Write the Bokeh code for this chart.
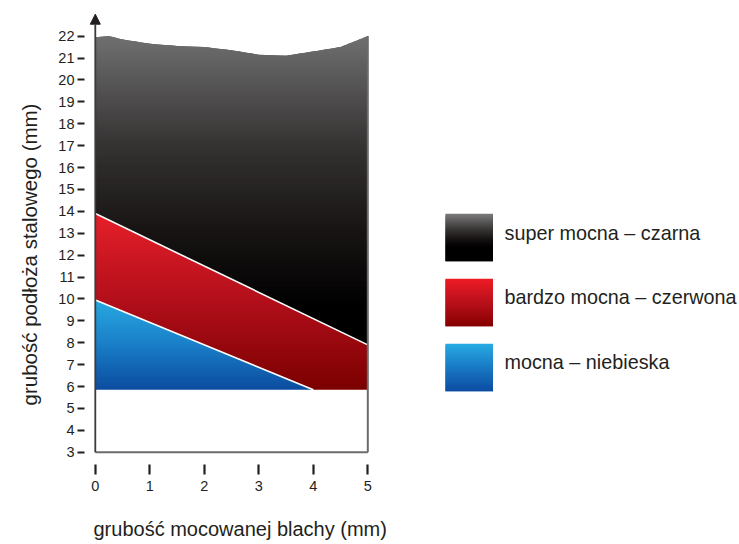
import numpy as np
from bokeh.plotting import figure
from bokeh.models import FixedTicker, Arrow, NormalHead, Range1d, Title
from bokeh.core.properties import value
from bokeh.embed import file_html
from bokeh.resources import INLINE

# ---------------- data ----------------
x_ticks = [0, 1, 2, 3, 4, 5]
y_ticks = list(range(3, 23))
base_y = 5.85                      # lower edge of coloured area
blue_x = [0, 4]                    # mocna – niebieska (upper limit)
blue_y = [9.95, 5.85]
red_x = [0, 5]                     # bardzo mocna – czerwona (upper limit)
red_y = [13.9, 7.9]
black_x = [0, 0.25, 0.5, 1, 1.5, 2, 2.5, 3, 3.5, 4, 4.5, 5]   # super mocna – czarna (upper limit)
black_y = [21.95, 22.0, 21.85, 21.65, 21.55, 21.5, 21.35, 21.15, 21.1, 21.3, 21.5, 22.0]
series = ["super mocna – czarna", "bardzo mocna – czerwona", "mocna – niebieska"]
x_label = "grubość mocowanej blachy (mm)"
y_label = "grubość podłoża stalowego (mm)"

FONT = "Liberation Sans"
TXT = "#231f20"


def hex2rgb(h):
    h = h.lstrip("#")
    return np.array([int(h[i:i + 2], 16) for i in (0, 2, 4)], float)


def grad_color(stops, t):
    pos = [s[0] for s in stops]
    cols = np.array([hex2rgb(s[1]) for s in stops])
    rgb = [np.interp(t, pos, cols[:, c]) for c in range(3)]
    return "#%02x%02x%02x" % tuple(int(round(v)) for v in rgb)


def band_polys(lx, ly, ux, uy, y0, y1, n, stops):
    """Horizontal gradient bands of the area between two boundaries."""
    lx = np.asarray(lx, float); ly = np.asarray(ly, float)
    ux = np.asarray(ux, float); uy = np.asarray(uy, float)
    edges = np.linspace(y0, y1, n + 1)
    step = edges[1] - edges[0]
    base_pts = np.unique(np.concatenate([lx, ux]))
    xs_out, ys_out, cols = [], [], []
    for k in range(n):
        a = edges[k]
        b = min(edges[k + 1] + 1.5 * step, y1) if k < n - 1 else y1
        pts = [base_pts]
        for bx, by in ((lx, ly), (ux, uy)):
            for L in (a, b):
                d = by - L
                idx = np.where(d[:-1] * d[1:] < 0)[0]
                if len(idx):
                    pts.append(bx[idx] + (L - by[idx]) * (bx[idx + 1] - bx[idx]) / (by[idx + 1] - by[idx]))
        xg = np.unique(np.concatenate(pts))
        top = np.clip(np.interp(xg, ux, uy), a, b)
        bot = np.clip(np.interp(xg, lx, ly), a, b)
        ok = (top - bot) > 1e-9
        if not ok.any():
            continue
        i = np.where(ok)[0]
        i0 = max(i[0] - 1, 0)
        i1 = min(i[-1] + 1, len(xg) - 1)
        xx = xg[i0:i1 + 1]
        xs_out.append(list(np.concatenate([xx, xx[::-1]])))
        ys_out.append(list(np.concatenate([top[i0:i1 + 1], bot[i0:i1 + 1][::-1]])))
        cols.append(grad_color(stops, (edges[k] + edges[k + 1]) / 2))
    return xs_out, ys_out, cols


# ---------------- figure geometry (canvas pixels) ----------------
W, H = 739, 544
px_per_x = 54.5
px_per_y = 21.9
x0_px, y3_px = 94.8, 451.7          # pixel of x=0 and y=3
frame_left, frame_top, frame_bottom, frame_right = 84, 10, 464, W
frame_w = frame_right - frame_left
frame_h = frame_bottom - frame_top


def dx(px):
    return (px - x0_px) / px_per_x


def dy(py):
    return 3 + (y3_px - py) / px_per_y


p = figure(width=W, height=H, frame_width=frame_w, frame_height=frame_h,
           x_range=Range1d(dx(frame_left), dx(frame_right)),
           y_range=Range1d(dy(frame_bottom), dy(frame_top)),
           toolbar_location=None, output_backend="svg",
           min_border_left=frame_left, min_border_right=0,
           min_border_top=frame_top, min_border_bottom=H - frame_bottom)
p.outline_line_color = None
p.grid.visible = False
p.background_fill_color = "white"
p.border_fill_color = "white"

# boundaries
blue_bx = blue_x + [5]
blue_by = blue_y + [base_y]
floor_x = [0, 5]
floor_y = [base_y, base_y]

black_stops = [(9.5, "#000000"), (13.0, "#171313"), (17.0, "#353232"), (22.0, "#707070")]
red_stops = [(5.85, "#7b0000"), (10.0, "#b30f1b"), (13.9, "#e6202a")]
blue_stops = [(5.85, "#0b4c9f"), (8.0, "#1a80c9"), (9.95, "#27a9e0")]

xs, ys, cs = band_polys(red_x, red_y, black_x, black_y, min(red_y), max(black_y), 150, black_stops)
p.patches(xs, ys, fill_color=cs, line_color=None)
xs, ys, cs = band_polys(blue_bx, blue_by, red_x, red_y, base_y, max(red_y), 90, red_stops)
p.patches(xs, ys, fill_color=cs, line_color=None)
xs, ys, cs = band_polys(floor_x, floor_y, blue_bx, blue_by, base_y, max(blue_y), 45, blue_stops)
p.patches(xs, ys, fill_color=cs, line_color=None)

# white separating lines
p.line(red_x, red_y, line_color="white", line_width=1.6)
p.line(blue_x, blue_y, line_color="white", line_width=1.6)

# frame lines
p.segment(x0=[0], y0=[3], x1=[5], y1=[3], line_color="#6b6b6b", line_width=2)
p.segment(x0=[5], y0=[3], x1=[5], y1=[black_y[-1]], line_color="#6b6b6b", line_width=2)
p.add_layout(Arrow(x_start=0, y_start=3, x_end=0, y_end=23.0, line_color="#3a3a3a", line_width=1.8,
                   end=NormalHead(size=10, fill_color=TXT, line_color=TXT)))

# axes
for ax in (p.xaxis[0], p.yaxis[0]):
    ax.axis_line_color = None
    ax.minor_tick_line_color = None
    ax.major_tick_in = 0
    ax.major_tick_line_color = TXT
    ax.major_label_text_font = FONT
    ax.major_label_text_font_size = "14.5px"
    ax.major_label_text_color = TXT

p.xaxis.ticker = FixedTicker(ticks=x_ticks)
p.xaxis.major_tick_out = 10
p.xaxis.major_tick_line_width = 2.2
p.xaxis.major_label_standoff = 6

p.yaxis.ticker = FixedTicker(ticks=y_ticks)
p.yaxis.major_tick_out = 7
p.yaxis.major_tick_line_width = 2.2
p.yaxis.major_label_standoff = 3

# axis titles
p.add_layout(Title(text=x_label, align="left", offset=9, standoff=45, text_font=FONT,
                   text_font_size="20px", text_font_style="normal", text_color=TXT), "below")
p.add_layout(Title(text=y_label, align="left", offset=59, standoff=29, text_font=FONT,
                   text_font_size="20.5px", text_font_style="normal", text_color=TXT), "left")

# ---------------- legend ----------------
sq_left_px, sq_size_px = 445, 47.5
sq_tops_px = [213.3, 278.3, 343.3]
text_x_px = 504
text_base_px = [232.3, 296.7, 361.7]
leg_stops = [
    [(0, "#7c7c7c"), (0.3, "#3d3a3a"), (0.55, "#141010"), (0.7, "#000000"), (1, "#000000")],
    [(0, "#ee1c25"), (0.5, "#b8101c"), (1, "#860000")],
    [(0, "#28abe2"), (0.5, "#1979c5"), (1, "#0c4ca1")],
]
nstrip = 48
L, R, T, B, C = [], [], [], [], []
for top, stops in zip(sq_tops_px, leg_stops):
    for k in range(nstrip):
        t0 = top + sq_size_px * k / nstrip
        t1 = min(top + sq_size_px * (k + 2.5) / nstrip, top + sq_size_px)
        L.append(dx(sq_left_px)); R.append(dx(sq_left_px + sq_size_px))
        T.append(dy(t0)); B.append(dy(t1))
        C.append(grad_color(stops, (k + 0.5) / nstrip))
p.quad(left=L, right=R, top=T, bottom=B, fill_color=C, line_color=None)
p.text(x=[dx(text_x_px)] * 3, y=[dy(v) for v in text_base_px], text=series, text_baseline="alphabetic",
       text_align="left", text_font=value(FONT), text_font_size="19.8px", text_color=TXT)

open("out.html", "w").write(file_html(p, INLINE))
